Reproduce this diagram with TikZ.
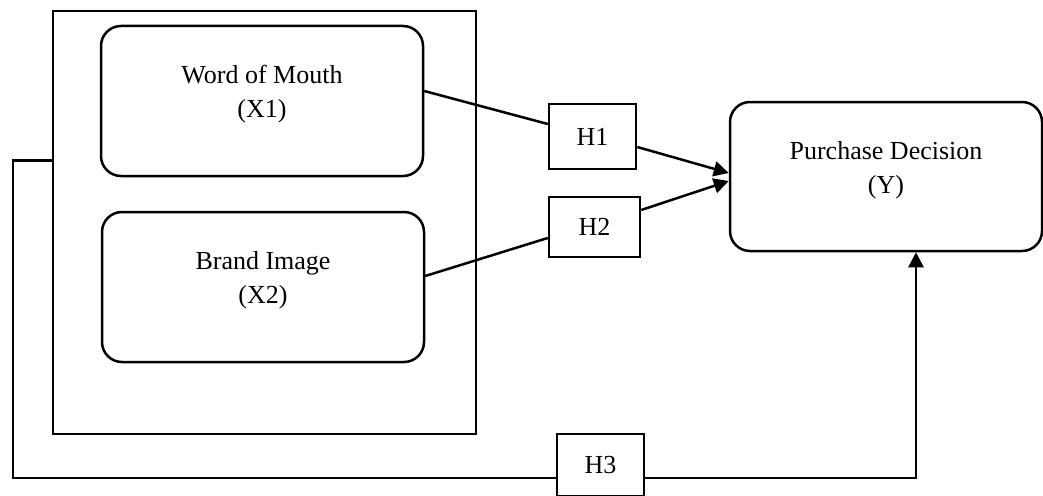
\documentclass[tikz,border=0pt]{standalone}
\usepackage{fontspec}
\setmainfont{Liberation Serif}
\usepackage{tikz}
\usetikzlibrary{arrows.meta}

\begin{document}
\begin{tikzpicture}[
  x=1pt,y=-1pt,
  var/.style={draw,line width=2.5pt,rounded corners=20pt,minimum width=322pt,
              minimum height=150pt},
  hyp/.style={draw,line width=2.5pt,minimum width=87pt,minimum height=64pt,
              font=\fontsize{26}{34}\selectfont},
  txt/.style={align=center,font=\fontsize{26}{34}\selectfont},
  ln/.style={line width=2.5pt},
  arr/.style={-{Triangle[length=15pt,width=15pt]},line width=2.5pt}]

  \useasboundingbox (0,0) rectangle (1043,495);
  \clip (0,0) rectangle (1043,495);

  \node[draw,line width=2.5pt,minimum width=423pt,minimum height=423pt]
    (frame) at (264.5,222.5) {};
  \node[var] (wom) at (262,101) {};
  \node[var] (bi)  at (263,287) {};
  \node[var,minimum width=312pt,minimum height=149pt] (pd) at (886,176.5) {};

  \node[txt] (wom-t) at ([yshift=6.5pt]wom) {Word of Mouth\\(X1)};
  \node[txt] (bi-t)  at ([yshift=6.5pt]bi)  {Brand Image\\(X2)};
  \node[txt] (pd-t)  at ([yshift=6.5pt]pd)  {Purchase Decision\\(Y)};

  \node[hyp,minimum height=65pt] (h1) at (592.5,136.5) {H1};
  \node[hyp,minimum width=91pt,minimum height=60pt] (h2) at (594.5,227) {H2};
  \node[hyp,minimum height=62pt] (h3) at (600.5,465) {H3};

  % partial paths
  \draw[ln]  ([yshift=10pt]wom.east) -- ([yshift=12.5pt]h1.west);
  \draw[arr] ([yshift=-10.5pt]h1.east) -- ([yshift=3.5pt]pd.west);
  \draw[ln]  ([yshift=11pt]bi.east) -- ([yshift=-11pt]h2.west);
  \draw[arr] ([yshift=17pt]h2.east) -- ([yshift=-4.5pt]pd.west);

  % simultaneous path
  \draw[ln]  ([yshift=62pt]frame.west) -- ++(-39,0) |- ([yshift=-13pt]h3.west);
  \draw[arr] ([yshift=-13pt]h3.east) -| ([xshift=30pt]pd.south);
\end{tikzpicture}
\end{document}
